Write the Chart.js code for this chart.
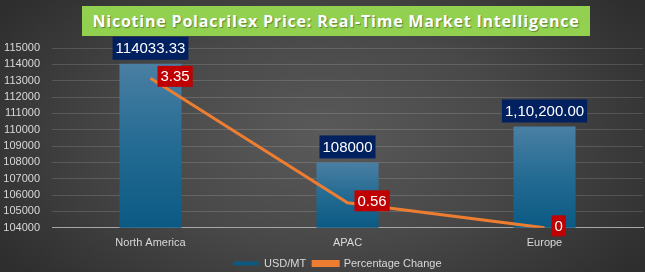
<!DOCTYPE html>
<html>
<head>
<meta charset="utf-8">
<script src="https://cdn.jsdelivr.net/npm/chart.js@4.4.1/dist/chart.umd.min.js"></script>
<style>
  html, body { margin: 0; padding: 0; }
  body {
    width: 645px; height: 272px; overflow: hidden; position: relative;
    background: radial-gradient(ellipse 60% 80% at 50% 50%, #5a5a5a 0%, #484848 50%, #2e2e2e 100%);
  }
  #wrap { position: absolute; left: 0; top: 0; width: 645px; height: 272px; }
  #title {
    position: absolute; left: 82px; top: 6px; width: 508px; height: 30px;
    background: #92d050; color: #ffffff;
    font: bold 16px "Open Sans", sans-serif; letter-spacing: 0.8px;
    text-align: center; line-height: 30px;
    text-shadow: 1px 1px 1px rgba(0,0,0,0.35);
  }
</style>
</head>
<body>
<div id="wrap"><canvas id="chart" width="645" height="272"></canvas></div>
<div id="title">Nicotine Polacrilex Price: Real-Time Market Intelligence</div>
<script>
const categories = ['North America', 'APAC', 'Europe'];
const usdPerMt = [114033.33, 108000, 110200];
const usdLabels = ['114033.33', '108000', '1,10,200.00'];
const pctChange = [3.35, 0.56, 0];
const pctLabels = ['3.35', '0.56', '0'];
const yTicks = { min: 104000, max: 115000, step: 1000 };

// draws the boxed value labels (blue above bars, red beside line points)
const boxLabels = {
    id: 'boxLabels',
    afterLayout(chart) {
        // legend sits centred under the plot area, not the whole canvas
        chart.legend.left += 16;
        chart.legend.right += 16;
    },
    afterDatasetsDraw(chart) {
        const ctx = chart.ctx;
        ctx.save();
        ctx.font = '15px "Liberation Sans", Arial, sans-serif';
        ctx.textBaseline = 'middle';
        ctx.textAlign = 'left';

        chart.getDatasetMeta(0).data.forEach((bar, i) => {
            const text = usdLabels[i];
            const w = ctx.measureText(text).width + 6;
            const h = 23;
            const x = bar.x - w / 2;
            const y = bar.y - 4 - h;
            ctx.fillStyle = '#002060';
            ctx.fillRect(x, y, w, h);
            ctx.fillStyle = '#ffffff';
            ctx.fillText(text, x + 3, y + h / 2 + 1);
        });

        chart.getDatasetMeta(1).data.forEach((pt, i) => {
            const text = pctLabels[i];
            const w = ctx.measureText(text).width + 6;
            const h = 21;
            const x = pt.x + 7;
            const y = pt.y - 2 - h / 2;
            ctx.fillStyle = '#c00000';
            ctx.fillRect(x, y, w, h);
            ctx.fillStyle = '#ffffff';
            ctx.fillText(text, x + 3, y + h / 2 + 1);
        });
        ctx.restore();
    }
};

function barFill(context) {
    const chart = context.chart;
    if (context.type !== 'data' || !chart.chartArea) return '#1f6e98';
    const yScale = chart.scales.y;
    const top = yScale.getPixelForValue(usdPerMt[context.dataIndex]);
    const bottom = chart.chartArea.bottom;
    const g = chart.ctx.createLinearGradient(0, top, 0, bottom);
    g.addColorStop(0, '#4a7fa3');
    g.addColorStop(0.5, '#246b93');
    g.addColorStop(1, '#0b5a84');
    return g;
}

new Chart(document.getElementById('chart'), {
    data: {
        labels: categories,
        datasets: [
            {
                type: 'bar',
                label: 'USD/MT',
                data: usdPerMt,
                backgroundColor: barFill,
                borderWidth: 0,
                categoryPercentage: 1,
                barPercentage: 0.315,
                yAxisID: 'y',
                order: 2
            },
            {
                type: 'line',
                label: 'Percentage Change',
                data: pctChange,
                borderColor: '#ed7d31',
                backgroundColor: '#ed7d31',
                borderWidth: 3,
                pointRadius: 0,
                tension: 0,
                yAxisID: 'y2',
                order: 1
            }
        ]
    },
    options: {
        responsive: false,
        animation: false,
        layout: { padding: { top: 48, right: 2, left: 0, bottom: -7 } },
        scales: {
            x: {
                grid: { display: false },
                border: { display: true, color: '#a6a6a6', width: 1 },
                ticks: { color: '#d9d9d9', font: { size: 11, family: '"Liberation Sans", Arial, sans-serif' }, padding: 1 }
            },
            y: {
                min: yTicks.min,
                max: yTicks.max,
                afterFit(scale) { scale.width = 52; },
                ticks: {
                    stepSize: yTicks.step,
                    autoSkip: false,
                    color: '#d9d9d9',
                    padding: 12,
                    font: { size: 11, family: '"Liberation Sans", Arial, sans-serif' },
                    callback: v => String(v)
                },
                grid: { color: 'rgba(255,255,255,0.14)', drawTicks: false },
                border: { display: false }
            },
            y2: {
                display: false,
                min: 0,
                max: 4.03,
                position: 'right'
            }
        },
        plugins: {
            legend: {
                position: 'bottom',
                labels: {
                    color: '#d9d9d9',
                    boxWidth: 25,
                    boxHeight: 4,
                    padding: 7,
                    sort: (a, b) => a.datasetIndex - b.datasetIndex,
                    font: { size: 11, family: '"Liberation Sans", Arial, sans-serif' }
                }
            },
            tooltip: { enabled: false }
        }
    },
    plugins: [boxLabels]
});
</script>
</body>
</html>
